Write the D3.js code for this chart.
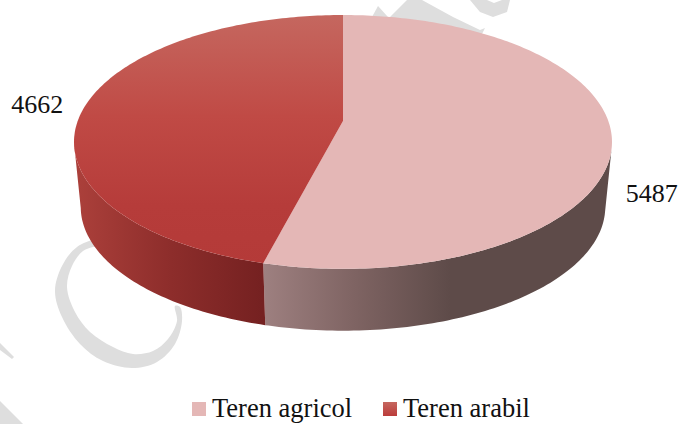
<!DOCTYPE html>
<html>
<head>
<meta charset="utf-8">
<script src="https://cdn.jsdelivr.net/npm/d3@7"></script>
<style>
body { margin:0; background:#fff; }
text { font-family:"Liberation Serif", serif; font-size:26px; fill:#111; }
.legend { font-size:26.5px; }
</style>
</head>
<body>
<div class="container"></div>
<script>
const wd = 680
const ht = 424

const categories = ["Teren agricol", "Teren arabil"]
const values = [5487, 4662]
const topColors = ["#e4b7b6", "url(#redTop)"]
const sideColors = ["url(#pinkSide)", "url(#redSide)"]
const labelOffsets = [[14, 65], [-74, 7]]

const cx = 343
const cy = 142
const vertexY = 121
const persp = 0.165
const ry = 103.5
const rx = 265.3
const depth = 65
const bottomScale = 0.975

const svgC = d3.select(".container")
.append("svg")
.attr("height", ht)
.attr("width", wd)
.style("display", "block")

const defs = svgC.append("defs")

function addGrad(id, x1, y1, x2, y2, stops) {
  const g = defs.append("linearGradient")
  .attr("id", id)
  .attr("gradientUnits", "userSpaceOnUse")
  .attr("x1", x1).attr("y1", y1).attr("x2", x2).attr("y2", y2)
  stops.forEach(s => g.append("stop").attr("offset", s[0]).attr("stop-color", s[1]))
}

addGrad("redTop", 0, 15, 0, 269, [[0, "#c5675f"], [0.4, "#c04a45"], [0.75, "#b63c3a"], [1, "#b43a38"]])
addGrad("redSide", 80, 0, 262, 0, [[0, "#aa3f3a"], [0.5, "#8d2d2b"], [1, "#752121"]])
addGrad("pinkSide", 263, 0, 450, 0, [[0, "#9e8080"], [0.5, "#7e6362"], [1, "#5e4b49"]])
addGrad("redSwatch", 0, 402, 0, 416, [[0, "#c5675f"], [1, "#bb3c3a"]])

// circle on the table -> picture, far side is smaller
function project(a) {
  const u = Math.sin(a)
  const v = Math.cos(a)
  const w = 1 + persp * v
  return { x: cx + rx * u / w, y: (vertexY - ry * v) / w }
}

function projectBottom(a) {
  const p = project(a)
  return {
    x: cx + (p.x - cx) * bottomScale,
    y: cy + (p.y - cy) * bottomScale + depth
  }
}

const lineObj = d3.line()
.x(d => d.x)
.y(d => d.y)

const pie = d3.pie().sort(null).startAngle(0).endAngle(2 * Math.PI)
const slices = pie(values)

function samples(a0, a1) {
  const step = Math.PI / 180
  const arr = d3.range(a0, a1, step)
  arr.push(a1)
  return arr
}

// watermark behind the pie
const blob = d3.line().x(d => d[0]).y(d => d[1]).curve(d3.curveCatmullRomClosed)
const poly = d3.line().x(d => d[0]).y(d => d[1]).curve(d3.curveLinearClosed)
const wmarkCurved = [
  [[97,240],[77,247],[62,266],[55,291],[62,317],[80,344],[103,361],[132,368],[157,362],[175,344],[182,321],[180,307],
   [175,306],[177,321],[168,339],[153,351],[133,354],[113,347],[90,332],[75,312],[67,287],[72,266],[83,251],[100,244]]
]
const wmarkFlat = [
  [[0,343],[14,357],[12,359],[0,350]],
  [[0,401],[23,424],[0,424]],
  [[372,17],[378,6],[388,17]],
  [[390,17],[407,0],[422,0],[453,17],[480,30],[485,28],[482,34],[440,40],[400,30]],
  [[470,0],[487,0],[494,3],[502,0],[510,0],[507,12],[493,17],[480,12]]
]
svgC.selectAll(".wmc").data(wmarkCurved).join("path")
.attr("class", "wmc")
.attr("d", blob)
.attr("fill", "#dedede")
svgC.selectAll(".wmf").data(wmarkFlat).join("path")
.attr("class", "wmf")
.attr("d", poly)
.attr("fill", "#dedede")

// side walls first, only the part that faces us (ends on the silhouette)
const frontFrom = 103 * Math.PI / 180
const frontTo = 260 * Math.PI / 180
slices.forEach((s, i) => {
  const a0 = Math.max(s.startAngle, frontFrom)
  const a1 = Math.min(s.endAngle, frontTo)
  const ang = samples(a0, a1)
  const pts = ang.map(project).concat(ang.slice().reverse().map(projectBottom))
  svgC.append("path")
  .attr("d", lineObj(pts) + "Z")
  .attr("fill", sideColors[i])
})

// top faces
slices.forEach((s, i) => {
  const pts = [{ x: cx, y: vertexY }].concat(samples(s.startAngle, s.endAngle).map(project))
  svgC.append("path")
  .attr("d", lineObj(pts) + "Z")
  .attr("fill", topColors[i])
})

// value labels, placed from the middle of each slice
slices.forEach((s, i) => {
  const p = project((s.startAngle + s.endAngle) / 2)
  svgC.append("text")
  .attr("x", p.x + labelOffsets[i][0])
  .attr("y", p.y + labelOffsets[i][1])
  .text(values[i])
})

// legend
const legendX = [192, 383]
const legendSwatch = ["#e4b7b6", "url(#redSwatch)"]
categories.forEach((c, i) => {
  svgC.append("rect")
  .attr("x", legendX[i])
  .attr("y", 402)
  .attr("width", 14)
  .attr("height", 14)
  .attr("fill", legendSwatch[i])
  svgC.append("text")
  .attr("class", "legend")
  .attr("x", legendX[i] + 20)
  .attr("y", 417)
  .text(c)
})
</script>
</body>
</html>
